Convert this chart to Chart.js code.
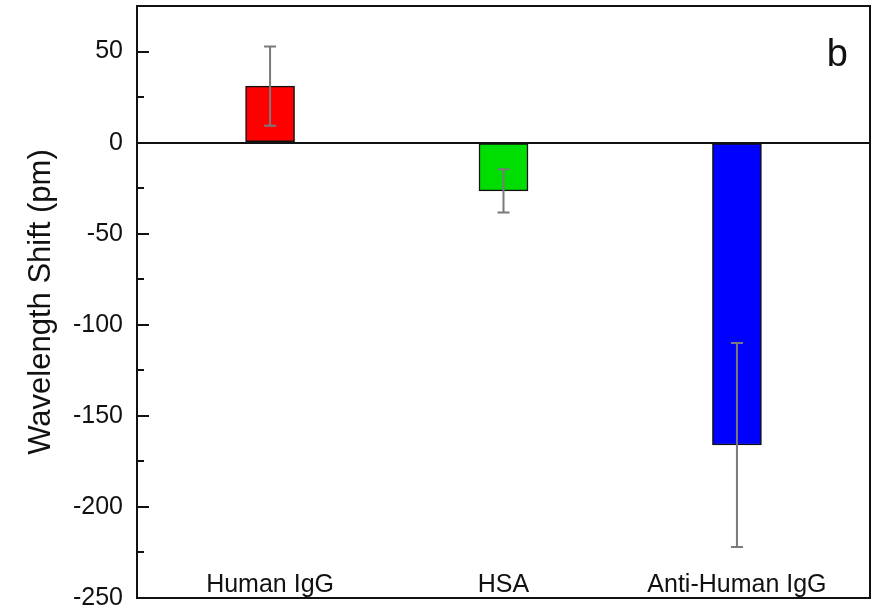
<!DOCTYPE html>
<html>
<head>
<meta charset="utf-8">
<script src="https://cdn.jsdelivr.net/npm/chart.js@4/dist/chart.umd.min.js"></script>
<style>
  html, body { margin: 0; padding: 0; background: #fff; }
  #wrap { width: 881px; height: 610px; }
</style>
</head>
<body>
<div id="wrap"><canvas id="c"></canvas></div>
<script>
const categories = ['Human IgG', 'HSA', 'Anti-Human IgG'];
const positions = [1, 2, 3];
const shifts = [31, -26.5, -166];
const errors = [21.8, 11.9, 56];
const barColors = ['#ff0000', '#00dd00', '#0000ff'];
const yTitle = 'Wavelength Shift (pm)';
const panelLabel = 'b';

const FONT = '"Liberation Sans", Arial, Helvetica, sans-serif';
const INK = '#111111';

const decorPlugin = {
  id: 'decor',
  afterDatasetsDraw(chart) {
    const ctx = chart.ctx;
    const ys = chart.scales.y;
    const meta = chart.getDatasetMeta(0);
    ctx.save();
    ctx.strokeStyle = '#7a7a7a';
    ctx.lineWidth = 2;
    meta.data.forEach((bar, i) => {
      const x = bar.x;
      const yt = ys.getPixelForValue(shifts[i] + errors[i]);
      const yb = ys.getPixelForValue(shifts[i] - errors[i]);
      ctx.beginPath();
      ctx.moveTo(x, yt); ctx.lineTo(x, yb);
      ctx.moveTo(x - 6, yt); ctx.lineTo(x + 6, yt);
      ctx.moveTo(x - 6, yb); ctx.lineTo(x + 6, yb);
      ctx.stroke();
    });
    ctx.restore();
  },
  afterDraw(chart) {
    const ctx = chart.ctx;
    const a = chart.chartArea;
    const ys = chart.scales.y;
    ctx.save();
    ctx.strokeStyle = INK;
    ctx.lineWidth = 2;
    ys.ticks.forEach(t => {
      if (t.value >= ys.max || t.value <= ys.min) return;
      const y = Math.round(ys.getPixelForValue(t.value));
      const len = (t.value % 50 === 0) ? 12 : 7;
      ctx.beginPath();
      ctx.moveTo(a.left, y); ctx.lineTo(a.left + len, y);
      ctx.stroke();
    });
    ctx.strokeRect(a.left, a.top, a.right - a.left, a.bottom - a.top);
    ctx.fillStyle = INK;
    ctx.font = '38px ' + FONT;
    ctx.textAlign = 'center';
    ctx.textBaseline = 'alphabetic';
    ctx.fillText(panelLabel, chart.scales.x.getPixelForValue(3.43), ys.getPixelForValue(41.8));
    ctx.restore();
  }
};

new Chart(document.getElementById('c'), {
  type: 'bar',
  data: {
    datasets: [{
      data: positions.map((p, i) => ({ x: p, y: shifts[i] })),
      backgroundColor: barColors,
      borderColor: INK,
      borderWidth: 1.5,
      borderSkipped: false,
      barThickness: 49
    }]
  },
  options: {
    responsive: true,
    maintainAspectRatio: false,
    animation: false,
    devicePixelRatio: 1,
    layout: { padding: { top: 6, right: 11, bottom: 12, left: 0 } },
    plugins: { legend: { display: false }, tooltip: { enabled: false } },
    scales: {
      x: {
        type: 'linear',
        offset: false,
        min: 0.43,
        max: 3.57,
        grid: { display: false, drawTicks: false },
        border: { display: false },
        ticks: {
          stepSize: 1,
          includeBounds: false,
          maxRotation: 0,
          autoSkip: false,
          padding: -28,
          color: INK,
          font: { family: FONT, size: 25 },
          callback: v => categories[positions.indexOf(v)] || ''
        },
        afterFit: s => { s.paddingLeft = 0; s.paddingRight = 0; }
      },
      y: {
        min: -250,
        max: 75,
        grid: {
          drawTicks: false,
          lineWidth: 2,
          color: c => (c.tick && c.tick.value === 0) ? INK : 'rgba(0,0,0,0)'
        },
        border: { display: false },
        ticks: {
          stepSize: 25,
          padding: 14,
          color: INK,
          font: { family: FONT, size: 25 },
          callback: v => (v % 50 === 0) ? String(v) : ''
        },
        title: {
          display: true,
          text: yTitle,
          color: INK,
          font: { family: FONT, size: 31 },
          padding: { top: 23, bottom: 0 }
        },
        afterFit: s => { s.width = 137; s.paddingTop = 0; s.paddingBottom = 0; }
      }
    }
  },
  plugins: [decorPlugin]
});
</script>
</body>
</html>
